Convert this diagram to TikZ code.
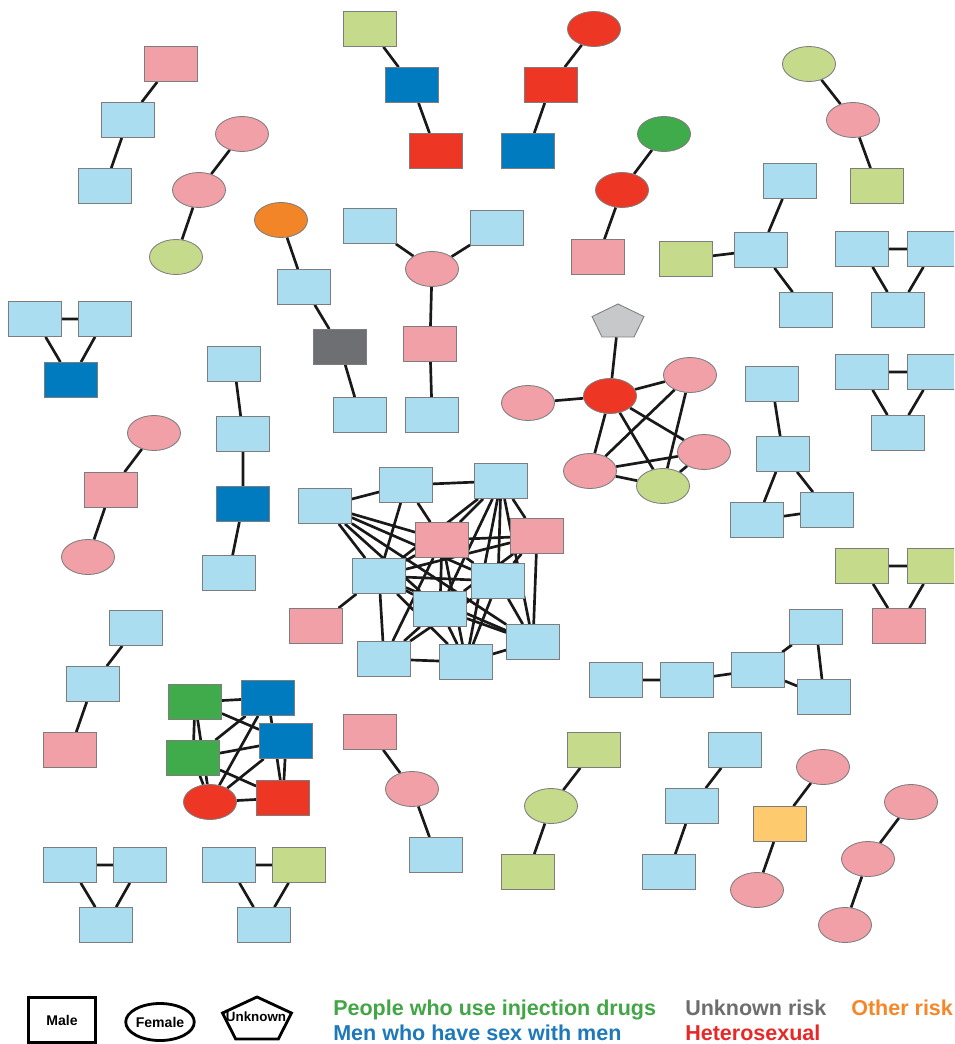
\documentclass[tikz,border=0pt]{standalone}
\usepackage{fontspec}
\setmainfont{Liberation Sans}
\usetikzlibrary{shapes.geometric,backgrounds}
\definecolor{lblue}{RGB}{171,221,241}
\definecolor{lpink}{RGB}{242,160,168}
\definecolor{lgreen}{RGB}{198,218,140}
\definecolor{msm}{RGB}{0,123,192}
\definecolor{het}{RGB}{238,54,36}
\definecolor{idu}{RGB}{64,171,74}
\definecolor{oth}{RGB}{242,133,40}
\definecolor{unk}{RGB}{110,111,115}
\definecolor{pgrey}{RGB}{199,200,202}
\definecolor{lyel}{RGB}{253,203,110}
\definecolor{nodeln}{RGB}{125,125,125}
\definecolor{tidu}{RGB}{66,165,70}
\definecolor{tmsm}{RGB}{30,120,185}
\definecolor{tunk}{RGB}{110,110,112}
\definecolor{thet}{RGB}{232,40,40}
\definecolor{toth}{RGB}{245,135,40}
\tikzset{
  mbox/.style={draw=nodeln, rectangle, minimum width=1.325cm, minimum height=0.875cm, inner sep=0pt, line width=0.6pt},
  fell/.style={draw=nodeln, ellipse, minimum width=1.325cm, minimum height=0.875cm, inner sep=0pt, line width=0.6pt},
  upent/.style={draw=nodeln, regular polygon, regular polygon sides=5, inner sep=0pt, line width=0.6pt},
  lnk/.style={line width=1.9pt, black!90},
  lgtxt/.style={font=\fontsize{15.3}{18}\selectfont\bfseries, anchor=base west, inner sep=0pt},
  lgkey/.style={draw, line width=2pt, inner sep=0pt, font=\fontsize{10}{12}\selectfont\bfseries},
}
\begin{document}
\begin{tikzpicture}[x=0.025cm, y=-0.025cm]
\useasboundingbox (0,0) rectangle (954,1044);
\clip (0,0) rectangle (954,1044);

% small chains, top
\node[mbox, fill=lpink] (a1) at (171,64) {};
\node[mbox, fill=lblue] (a2) at (128,120) {};
\node[mbox, fill=lblue] (a3) at (105,186) {};

\node[fell, fill=lpink] (b1) at (242,134) {};
\node[fell, fill=lpink] (b2) at (199,190) {};
\node[fell, fill=lgreen] (b3) at (176,257) {};

\node[mbox, fill=lgreen] (c1) at (370,29) {};
\node[mbox, fill=msm] (c2) at (412,85) {};
\node[mbox, fill=het] (c3) at (436,151) {};

\node[fell, fill=het] (d1) at (594,29) {};
\node[mbox, fill=het] (d2) at (551,85) {};
\node[mbox, fill=msm] (d3) at (528,151) {};

\node[fell, fill=idu] (e1) at (664,134) {};
\node[fell, fill=het] (e2) at (622,190) {};
\node[mbox, fill=lpink] (e3) at (598,257) {};

\node[fell, fill=lgreen] (f1) at (809,64) {};
\node[fell, fill=lpink] (f2) at (853,120) {};
\node[mbox, fill=lgreen] (f3) at (877,186) {};

\node[fell, fill=oth] (g1) at (281,220) {};
\node[mbox, fill=lblue] (g2) at (304,287) {};
\node[mbox, fill=unk] (g3) at (340,347) {};
\node[mbox, fill=lblue] (g4) at (360,415) {};

\node[mbox, fill=lblue] (h1) at (370,226) {};
\node[fell, fill=lpink] (h2) at (432,269) {};
\node[mbox, fill=lblue] (h3) at (497,228) {};
\node[mbox, fill=lpink] (h4) at (430,344) {};
\node[mbox, fill=lblue] (h5) at (432,415) {};

\node[mbox, fill=lblue] (i1) at (790,181) {};
\node[mbox, fill=lblue] (i2) at (761,250) {};
\node[mbox, fill=lgreen] (i3) at (686,259) {};
\node[mbox, fill=lblue] (i4) at (806,310) {};

\node[mbox, fill=lblue] (j1) at (862,249) {};
\node[mbox, fill=lblue] (j2) at (934,249) {};
\node[mbox, fill=lblue] (j3) at (898,310) {};

\node[mbox, fill=lblue] (k1) at (35,319) {};
\node[mbox, fill=lblue] (k2) at (105,319) {};
\node[mbox, fill=msm] (k3) at (71,380) {};

\node[mbox, fill=lblue] (l1) at (234,364) {};
\node[mbox, fill=lblue] (l2) at (243,434) {};
\node[mbox, fill=msm] (l3) at (243,504) {};
\node[mbox, fill=lblue] (l4) at (229,573) {};

\node[mbox, fill=lblue] (m1) at (862,372) {};
\node[mbox, fill=lblue] (m2) at (934,372) {};
\node[mbox, fill=lblue] (m3) at (898,433) {};

% female cluster with the unknown
\begin{scope}[shift={(618,322.2)}, yscale=0.668]
\node[upent, fill=pgrey, minimum size=1.365cm, transform shape] (p0) {};
\end{scope}
\node[fell, fill=het] (p1) at (610,396) {};
\node[fell, fill=lpink] (p2) at (528,403) {};
\node[fell, fill=lpink] (p3) at (690,375) {};
\node[fell, fill=lpink] (p4) at (704,452) {};
\node[fell, fill=lpink] (p5) at (590,471) {};
\node[fell, fill=lgreen] (p6) at (663,486) {};

\node[mbox, fill=lblue] (q1) at (772,384) {};
\node[mbox, fill=lblue] (q2) at (783,454) {};
\node[mbox, fill=lblue] (q3) at (757,520) {};
\node[mbox, fill=lblue] (q4) at (827,510) {};

\node[fell, fill=lpink] (r1) at (154,433) {};
\node[mbox, fill=lpink] (r2) at (111,490) {};
\node[fell, fill=lpink] (r3) at (88,557) {};

% big cluster
\node[mbox, fill=lblue] (s1) at (325,506) {};
\node[mbox, fill=lblue] (s2) at (406,485) {};
\node[mbox, fill=lblue] (s3) at (501,481) {};
\node[mbox, fill=lpink] (s4) at (442,540) {};
\node[mbox, fill=lpink] (s5) at (537,536) {};
\node[mbox, fill=lblue] (s6) at (379,576) {};
\node[mbox, fill=lblue] (s7) at (498,581) {};
\node[mbox, fill=lblue] (s8) at (440,609) {};
\node[mbox, fill=lpink] (s9) at (316,626) {};
\node[mbox, fill=lblue] (s10) at (384,659) {};
\node[mbox, fill=lblue] (s11) at (466,662) {};
\node[mbox, fill=lblue] (s12) at (533,642) {};

\node[mbox, fill=lgreen] (t1) at (862,566) {};
\node[mbox, fill=lgreen] (t2) at (934,566) {};
\node[mbox, fill=lpink] (t3) at (899,626) {};

\node[mbox, fill=lblue] (u1) at (136,628) {};
\node[mbox, fill=lblue] (u2) at (93,684) {};
\node[mbox, fill=lpink] (u3) at (70,750) {};

% mixed cluster
\node[mbox, fill=idu] (v1) at (195,702) {};
\node[mbox, fill=msm] (v2) at (268,698) {};
\node[mbox, fill=msm] (v3) at (286,741) {};
\node[mbox, fill=idu] (v4) at (193,758) {};
\node[fell, fill=het] (v5) at (210,802) {};
\node[mbox, fill=het] (v6) at (283,798) {};

\node[mbox, fill=lblue] (w1) at (616,680) {};
\node[mbox, fill=lblue] (w2) at (687,680) {};
\node[mbox, fill=lblue] (w3) at (758,670) {};
\node[mbox, fill=lblue] (w4) at (816,627) {};
\node[mbox, fill=lblue] (w5) at (824,697) {};

\node[mbox, fill=lpink] (x1) at (370,732) {};
\node[fell, fill=lpink] (x2) at (412,789) {};
\node[mbox, fill=lblue] (x3) at (436,855) {};

\node[mbox, fill=lgreen] (y1) at (594,750) {};
\node[fell, fill=lgreen] (y2) at (551,806) {};
\node[mbox, fill=lgreen] (y3) at (528,872) {};

\node[mbox, fill=lblue] (z1) at (735,750) {};
\node[mbox, fill=lblue] (z2) at (692,806) {};
\node[mbox, fill=lblue] (z3) at (669,872) {};

\node[fell, fill=lpink] (o1) at (823,767) {};
\node[mbox, fill=lyel] (o2) at (780,824) {};
\node[fell, fill=lpink] (o3) at (757,890) {};

\node[fell, fill=lpink] (n1) at (911,802) {};
\node[fell, fill=lpink] (n2) at (868,859) {};
\node[fell, fill=lpink] (n3) at (845,925) {};

\node[mbox, fill=lblue] (bb1) at (70,865) {};
\node[mbox, fill=lblue] (bb2) at (140,865) {};
\node[mbox, fill=lblue] (bb3) at (106,925) {};

\node[mbox, fill=lblue] (cc1) at (229,865) {};
\node[mbox, fill=lgreen] (cc2) at (299,865) {};
\node[mbox, fill=lblue] (cc3) at (264,925) {};

\begin{pgfonlayer}{background}
\draw[lnk] (a1) -- (a2) -- (a3);
\draw[lnk] (b1) -- (b2) -- (b3);
\draw[lnk] (c1) -- (c2) -- (c3);
\draw[lnk] (d1) -- (d2) -- (d3);
\draw[lnk] (e1) -- (e2) -- (e3);
\draw[lnk] (f1) -- (f2) -- (f3);
\draw[lnk] (g1) -- (g2) -- (g3) -- (g4);
\draw[lnk] (h1) -- (h2) -- (h3);
\draw[lnk] (h2) -- (h4) -- (h5);
\draw[lnk] (i1) -- (i2) -- (i4);
\draw[lnk] (i3) -- (i2);
\draw[lnk] (j1) -- (j2) -- (j3) -- (j1);
\draw[lnk] (k1) -- (k2) -- (k3) -- (k1);
\draw[lnk] (l1) -- (l2) -- (l3) -- (l4);
\draw[lnk] (m1) -- (m2) -- (m3) -- (m1);
\draw[lnk] (p0) -- (p1);
\draw[lnk] (p2) -- (p1) -- (p3);
\draw[lnk] (p1) -- (p4);
\draw[lnk] (p1) -- (p5);
\draw[lnk] (p1) -- (p6);
\draw[lnk] (p3) -- (p5);
\draw[lnk] (p3) -- (p6);
\draw[lnk] (p5) -- (p4) -- (p6) -- (p5);
\draw[lnk] (q1) -- (q2) -- (q3) -- (q4) -- (q2);
\draw[lnk] (r1) -- (r2) -- (r3);
\foreach \s/\t in {1/2,1/4,1/6,1/7,1/8,1/12,2/3,2/4,2/6,3/4,3/5,3/6,3/7,3/8,3/11,3/12,
  4/5,4/6,4/7,4/8,4/10,4/11,5/6,5/7,5/8,5/12,6/7,6/8,6/9,6/10,6/11,6/12,
  7/10,7/11,7/12,8/10,8/11,8/12,10/11,11/12}
  \draw[lnk] (s\s) -- (s\t);
\draw[lnk] (t1) -- (t2) -- (t3) -- (t1);
\draw[lnk] (u1) -- (u2) -- (u3);
\foreach \s/\t in {1/2,1/3,1/4,1/5,2/4,2/5,2/6,3/4,3/5,3/6,4/5,4/6,5/6}
  \draw[lnk] (v\s) -- (v\t);
\draw[lnk] (w1) -- (w2) -- (w3) -- (w4) -- (w5) -- (w3);
\draw[lnk] (x1) -- (x2) -- (x3);
\draw[lnk] (y1) -- (y2) -- (y3);
\draw[lnk] (z1) -- (z2) -- (z3);
\draw[lnk] (o1) -- (o2) -- (o3);
\draw[lnk] (n1) -- (n2) -- (n3);
\draw[lnk] (bb1) -- (bb2) -- (bb3) -- (bb1);
\draw[lnk] (cc1) -- (cc2) -- (cc3) -- (cc1);
\end{pgfonlayer}

% legend
\node[lgkey, rectangle, minimum width=1.675cm, minimum height=1.125cm] (kmale) at (62,1020) {Male};
\node[lgkey, ellipse, minimum width=1.675cm, minimum height=0.925cm] (kfem) at (160,1022) {Female};
\begin{scope}[shift={(257,1020.2)}, yscale=0.64]
\node[lgkey, regular polygon, regular polygon sides=5, minimum size=1.815cm, transform shape] (kunk) {};
\end{scope}
\node[font=\fontsize{9.5}{11}\selectfont\bfseries, inner sep=0pt] (kunkt) at (256,1017) {Unknown};

\node[lgtxt, text=tidu] (lidu) at (333,1015) {People who use injection drugs};
\node[lgtxt, text=tmsm] (lmsm) at (333,1040) {Men who have sex with men};
\node[lgtxt, text=tunk] (lunk) at (685,1015) {Unknown risk};
\node[lgtxt, text=thet] (lhet) at (685,1040) {Heterosexual};
\node[lgtxt, text=toth] (loth) at (851,1015) {Other risk};
\end{tikzpicture}
\end{document}
